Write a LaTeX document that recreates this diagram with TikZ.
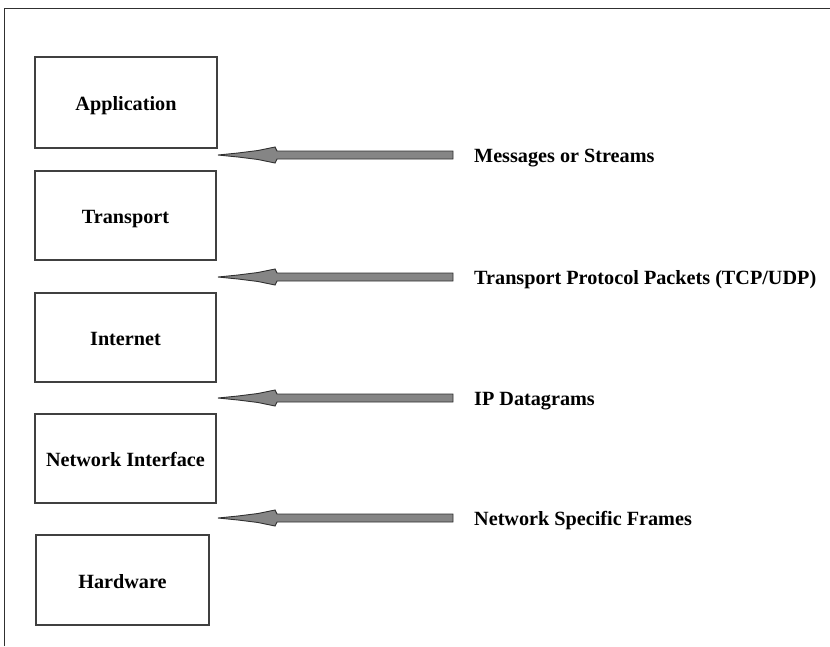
\documentclass[tikz,border=0pt]{standalone}
\usepackage{fontspec}
\setmainfont{Liberation Serif}
\usetikzlibrary{calc}
\definecolor{framegray}{HTML}{303030}
\definecolor{boxgray}{HTML}{404040}
\definecolor{pdufill}{HTML}{858585}
\begin{document}
\begin{tikzpicture}[x=1pt,y=-1pt,
  layerbox/.style={draw=boxgray, line width=1.1pt, fill=white, inner sep=0pt,
    text height=16pt, text depth=0pt,
    font=\bfseries\fontsize{20.2}{23}\selectfont},
  pdulabel/.style={anchor=west, inner sep=0pt, text height=14pt, text depth=0pt,
    font=\bfseries\fontsize{20.2}{23}\selectfont},
  pdu/.style={fill=pdufill, draw=framegray, line width=0.9pt, line join=miter}
]
% page and outer frame (top and left edges only)
\useasboundingbox (0,0) rectangle (830,646);
\draw[framegray, line width=1pt] (4.5,646) -- (4.5,8) -- (830,8);

% protocol layers
\node[layerbox, minimum width=182pt, minimum height=91pt] (app) at (126,102.5) {Application};
\node[layerbox, minimum width=181pt, minimum height=89pt] (trans) at (125.5,215.5) {Transport};
\node[layerbox, minimum width=181pt, minimum height=89pt] (inet) at (125.5,337.5) {Internet};
\node[layerbox, minimum width=181pt, minimum height=89pt] (nif) at (125.5,458.5) {Network Interface};
\node[layerbox, minimum width=173pt, minimum height=90pt] (hw) at (122.5,580) {Hardware};

% data units passed between layers
\node[pdulabel] (u1) at (474,155) {Messages or Streams};
\node[pdulabel] (u2) at (474,277) {Transport Protocol Packets (TCP/UDP)};
\node[pdulabel] (u3) at (474,398) {IP Datagrams};
\node[pdulabel] (u4) at (474,518) {Network Specific Frames};

\foreach \i/\y in {1/155,2/277,3/398,4/518} {
  \coordinate (tip\i) at (218,\y);
  \filldraw[pdu] (tip\i) -- ++(20,-2) -- ++(20,-2.5) -- ++(17,-3.5) -- ++(2,4)
    -- ($(u\i.west |- tip\i)+(-21,-4)$) -- ($(u\i.west |- tip\i)+(-21,4)$)
    -- ($(tip\i)+(59,4)$) -- ++(-2,4) -- ++(-17,-3.5) -- ++(-20,-2.5) -- cycle;
}
\end{tikzpicture}
\end{document}
